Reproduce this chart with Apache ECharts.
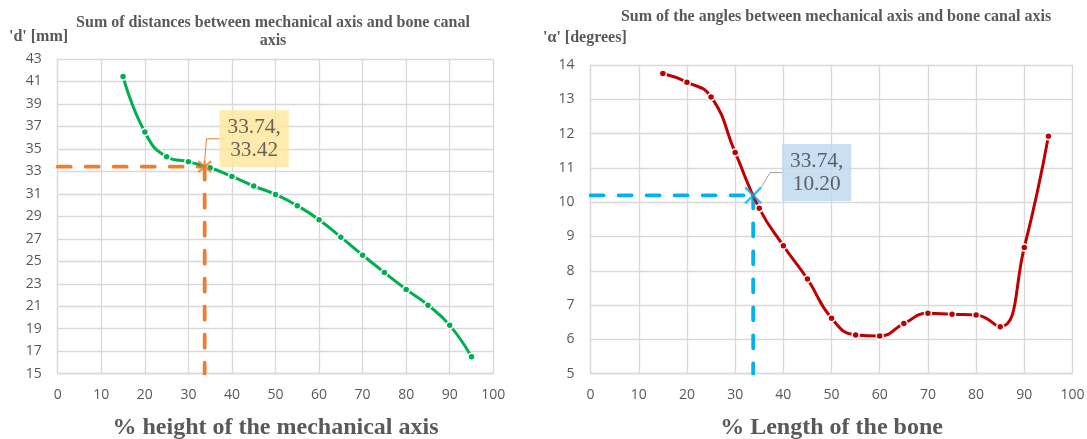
<!DOCTYPE html>
<html>
<head>
<meta charset="utf-8">
<script src="https://cdn.jsdelivr.net/npm/echarts@6/dist/echarts.min.js"></script>
<style>html,body{margin:0;padding:0;background:#fff}#c{width:1087px;height:439px}</style>
</head>
<body>
<div id="c"></div>
<script>
// ---- data ----
const pctPoints = [15, 20, 25, 30, 35, 40, 45, 50, 55, 60, 65, 70, 75, 80, 85, 90, 95];
const distanceD = [41.45, 36.5, 34.3, 33.85, 33.32, 32.55, 31.7, 30.95, 29.95, 28.7, 27.15, 25.55, 24.0, 22.5, 21.1, 19.3, 16.5];
const angleA = [13.75, 13.5, 13.07, 11.45, 9.82, 8.73, 7.76, 6.62, 6.13, 6.1, 6.46, 6.76, 6.73, 6.71, 6.37, 8.68, 11.92];
const optimumX = 33.74;
const optimumD = 33.42;
const optimumA = 10.20;
const xRange = [0, 100, 10];      // min, max, step
const dRange = [15, 43, 2];
const aRange = [5, 14, 1];
const titleLeft = 'Sum of distances between mechanical axis and bone canal\naxis';
const titleRight = 'Sum of the angles between mechanical axis and bone canal axis';
const yNameLeft = "'d' [mm]";
const yNameRight = "'α' [degrees]";
const xNameLeft = '% height of the mechanical axis';
const xNameRight = '% Length of the bone';

// ---- styles ----
const SERIF = "'Liberation Serif', 'Times New Roman', serif";
const SANS = "'Open Sans', 'Noto Sans', sans-serif";
const GRID_C = '#D9D9D9';
const TXT = '#595959';

const chart = echarts.init(document.getElementById('c'), null, {renderer: 'canvas'});

function xAxisCfg(gi, name) {
  return {
    type: 'value', gridIndex: gi, min: xRange[0], max: xRange[1], interval: xRange[2],
    name: name, nameLocation: 'middle', nameGap: 42,
    nameTextStyle: {fontFamily: SERIF, fontWeight: 'bold', fontSize: 24, color: TXT},
    axisLine: {show: true, lineStyle: {color: GRID_C, width: 1.3}},
    axisTick: {show: false},
    axisLabel: {margin: 14, fontFamily: SANS, fontSize: 14, color: TXT},
    splitLine: {show: true, lineStyle: {color: GRID_C, width: 1.3}}
  };
}
function yAxisCfg(gi, r) {
  return {
    type: 'value', gridIndex: gi, min: r[0], max: r[1], interval: r[2],
    axisLine: {show: true, lineStyle: {color: GRID_C, width: 1.3}},
    axisTick: {show: false},
    axisLabel: {margin: 16, fontFamily: SANS, fontSize: 14, color: TXT},
    splitLine: {show: true, lineStyle: {color: GRID_C, width: 1.3}}
  };
}
const asterisk = 'path://M0,0L10,10M10,0L0,10M5,-1L5,11';
const cross = 'path://M0,0L10,10M10,0L0,10';

function dash(gi, color, pts) {
  return {
    type: 'line', xAxisIndex: gi, yAxisIndex: gi, data: pts, symbol: 'none', silent: true,
    lineStyle: {color: color, width: 3.8, type: [13, 15], cap: 'round'}, z: 2
  };
}

const option = {
  animation: false,
  backgroundColor: '#fff',
  title: [
    {text: titleLeft, left: 273, top: 14, textAlign: 'center', textVerticalAlign: 'top', padding: 0,
     textStyle: {fontFamily: SERIF, fontWeight: 'bold', fontSize: 16, lineHeight: 18, color: TXT}},
    {text: titleRight, left: 836, top: 8, textAlign: 'center', textVerticalAlign: 'top', padding: 0,
     textStyle: {fontFamily: SERIF, fontWeight: 'bold', fontSize: 16, lineHeight: 18, color: TXT}},
    {text: yNameLeft, left: 9, top: 28, textAlign: 'left', textVerticalAlign: 'top', padding: 0,
     textStyle: {fontFamily: SERIF, fontWeight: 'bold', fontSize: 16, lineHeight: 18, color: TXT}},
    {text: yNameRight, left: 543, top: 29, textAlign: 'left', textVerticalAlign: 'top', padding: 0,
     textStyle: {fontFamily: SERIF, fontWeight: 'bold', fontSize: 16, lineHeight: 18, color: TXT}}
  ],
  grid: [
    {left: 57.7, top: 59, width: 435.6, height: 314.7, outerBoundsMode: 'none', containLabel: false},
    {left: 590.6, top: 65, width: 481.9, height: 308.7, outerBoundsMode: 'none', containLabel: false}
  ],
  xAxis: [xAxisCfg(0, xNameLeft), xAxisCfg(1, xNameRight)],
  yAxis: [yAxisCfg(0, dRange), yAxisCfg(1, aRange)],
  series: [
    dash(0, '#ED7D31', [[xRange[0], optimumD], [optimumX, optimumD]]),
    dash(0, '#ED7D31', [[optimumX, optimumD], [optimumX, dRange[0]]]),
    {
      type: 'line', xAxisIndex: 0, yAxisIndex: 0, smooth: 0.5,
      data: pctPoints.map((x, i) => [x, distanceD[i]]),
      symbol: 'circle', symbolSize: 7, showAllSymbol: true,
      lineStyle: {color: '#00B050', width: 3},
      itemStyle: {color: '#00B050', borderColor: '#fff', borderWidth: 1.5}, z: 3
    },
    {
      type: 'scatter', xAxisIndex: 0, yAxisIndex: 0, data: [[optimumX, optimumD]],
      symbol: asterisk, symbolSize: 13,
      itemStyle: {color: 'transparent', borderColor: '#ED7D31', borderWidth: 2.4}, z: 5,
      label: {show: true, position: 'inside',
        formatter: optimumX.toFixed(2) + ',\n' + optimumD.toFixed(2),
        fontFamily: SERIF, fontSize: 21.3, lineHeight: 23, color: '#404040',
        backgroundColor: '#FFE699', padding: [6, 8, 5, 8]},
      labelLayout: {dx: 49.5, dy: -27.9},
      labelLine: {show: true, length2: 13, lineStyle: {color: '#ED7D31', width: 1}}
    },
    dash(1, '#00B0F0', [[xRange[0], optimumA], [optimumX, optimumA]]),
    dash(1, '#00B0F0', [[optimumX, optimumA], [optimumX, aRange[0]]]),
    {
      type: 'line', xAxisIndex: 1, yAxisIndex: 1, smooth: 0.5,
      data: pctPoints.map((x, i) => [x, angleA[i]]),
      symbol: 'circle', symbolSize: 7, showAllSymbol: true,
      lineStyle: {color: '#C00000', width: 3},
      itemStyle: {color: '#C00000', borderColor: '#fff', borderWidth: 1.5}, z: 3
    },
    {
      type: 'scatter', xAxisIndex: 1, yAxisIndex: 1, data: [[optimumX, optimumA]],
      symbol: cross, symbolSize: 16,
      itemStyle: {color: 'transparent', borderColor: '#00B0F0', borderWidth: 2.4}, z: 5,
      label: {show: true, position: 'inside',
        formatter: optimumX.toFixed(2) + ',\n' + optimumA.toFixed(2),
        fontFamily: SERIF, fontSize: 21.3, lineHeight: 23, color: '#404040',
        backgroundColor: '#BDD7EE', padding: [6, 8, 5, 8]},
      labelLayout: {dx: 63.5, dy: -22.8},
      labelLine: {show: true, length2: 12, lineStyle: {color: '#A6A6A6', width: 1}}
    }
  ]
};
chart.setOption(option);
</script>
</body>
</html>
